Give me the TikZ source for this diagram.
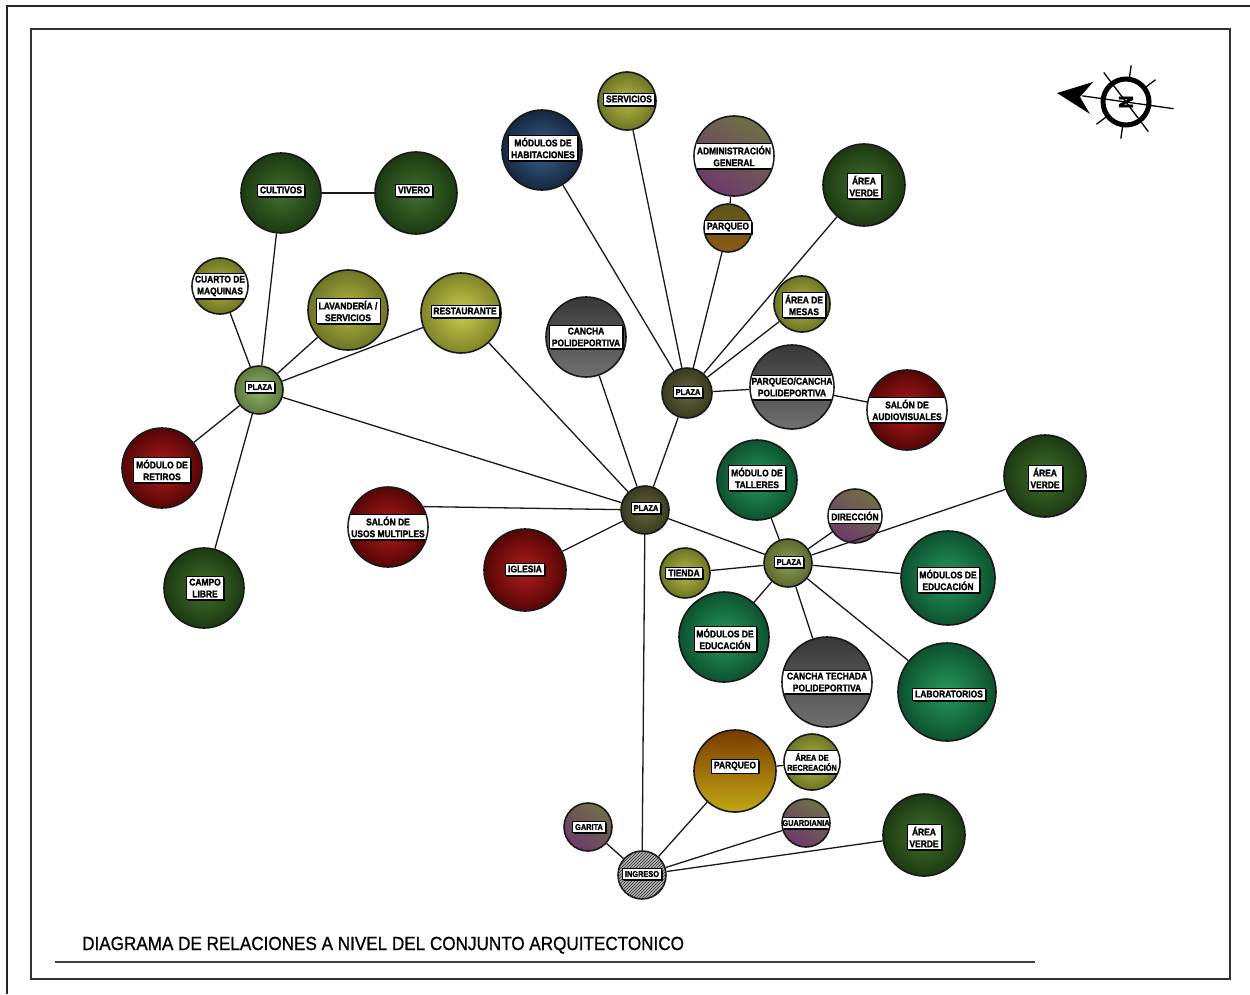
\documentclass[tikz,border=0pt]{standalone}
\usepackage{fontspec}
\usetikzlibrary{shadows,patterns}

\newfontfamily\lblfont[FakeStretch=0.87, FakeBold=1.6]{Liberation Sans}
\newfontfamily\ttlfont[FakeStretch=0.9, FakeBold=0.8]{Liberation Sans}

\definecolor{forestA}{HTML}{42702C}
\definecolor{forestB}{HTML}{1C3A12}
\definecolor{oliveA}{HTML}{B3B843}
\definecolor{oliveB}{HTML}{6E7424}
\definecolor{limeA}{HTML}{C9CC4C}
\definecolor{limeB}{HTML}{7F8428}
\definecolor{wineA}{HTML}{B31B1B}
\definecolor{wineB}{HTML}{560606}
\definecolor{navyA}{HTML}{3A628C}
\definecolor{navyB}{HTML}{152740}
\definecolor{jadeA}{HTML}{27995C}
\definecolor{jadeB}{HTML}{0D5230}
\definecolor{slateT}{HTML}{383838}
\definecolor{slateB}{HTML}{707070}
\definecolor{mauveT}{HTML}{6F6F45}
\definecolor{mauveB}{HTML}{6E3A6A}
\definecolor{goldT}{HTML}{7A3A00}
\definecolor{goldB}{HTML}{C2A814}
\definecolor{bronzeT}{HTML}{58561C}
\definecolor{bronzeB}{HTML}{8E5A12}
\definecolor{sageA}{HTML}{93B06C}
\definecolor{sageB}{HTML}{5C7A3C}
\definecolor{mossA}{HTML}{66663F}
\definecolor{mossB}{HTML}{3A3A1E}
\definecolor{fernA}{HTML}{909E58}
\definecolor{fernB}{HTML}{5A6A2E}

\tikzset{
  spot/.style={circle, draw=black!90, line width=1.6pt, inner sep=0pt, minimum size=#1},
  forest/.style={inner color=forestA, outer color=forestB},
  olivefill/.style={inner color=oliveA, outer color=oliveB},
  lime/.style={inner color=limeA, outer color=limeB},
  wine/.style={inner color=wineA, outer color=wineB},
  navy/.style={inner color=navyA, outer color=navyB},
  jade/.style={inner color=jadeA, outer color=jadeB},
  slate/.style={top color=slateT, bottom color=slateB},
  mauve/.style={top color=mauveT, bottom color=mauveB, shading angle=-35},
  gold/.style={top color=goldT, bottom color=goldB},
  bronze/.style={top color=bronzeT, bottom color=bronzeB},
  sage/.style={inner color=sageA, outer color=sageB},
  moss/.style={inner color=mossA, outer color=mossB},
  fern/.style={inner color=fernA, outer color=fernB},
  hatch/.style={fill=black!30, postaction={pattern=north east lines, pattern color=black!80}},
  tag/.style={draw=black, line width=.7pt, fill=white, align=center,
    inner xsep=2.5pt, inner ysep=2.5pt,
    font=\lblfont\bfseries\fontsize{9.7}{11.8}\selectfont,
    drop shadow={shadow xshift=1.6pt, shadow yshift=-1.6pt, fill=black, opacity=.9}},
  tagsm/.style={tag, font=\lblfont\bfseries\fontsize{8.5}{10}\selectfont},
  link/.style={line width=1.3pt, black!90}
}

% label band cut to its circle
\newcommand{\bandtag}[5]{%
  \begin{scope}
    \clip (#1) circle [radius=#2-0.8];
    \node[tag, #4, minimum width=#3pt] (#1-t) at (#1) {#5};
  \end{scope}}

\begin{document}
\begin{tikzpicture}[x=1pt, y=-1pt]
\useasboundingbox (0,0) rectangle (1250,994);

% frames
\draw[line width=1.2pt, black!85] (7,994) -- (7,6) -- (1250,6);
\draw[line width=1.8pt, black!80] (31,29) rectangle (1230,979);

% west group
\node[spot=80pt, forest] (cultivos) at (281,193) {};
\node[spot=82pt, forest] (vivero) at (416,193) {};
\node[spot=56pt, olivefill] (cuarto) at (220,286) {};
\node[spot=80pt, olivefill] (lavanderia) at (348,310) {};
\node[spot=80pt, lime] (restaurante) at (461,313) {};
\node[spot=48pt, sage] (plazaW) at (259,390) {};
\node[spot=80pt, wine] (retiros) at (162,468) {};
\node[spot=80pt, forest] (campo) at (204,588) {};
\node[spot=80pt, wine] (usos) at (388,527) {};
\node[spot=82pt, wine] (iglesia) at (525,570) {};

% north group
\node[spot=80pt, navy] (habitaciones) at (542,150) {};
\node[spot=58pt, olivefill] (servicios) at (627,101) {};
\node[spot=80pt, mauve] (admin) at (734,156) {};
\node[spot=48pt, bronze] (parqueoN) at (728,228) {};
\node[spot=82pt, forest] (verdeN) at (864,185) {};
\node[spot=56pt, olivefill] (mesas) at (802,304) {};
\node[spot=80pt, slate] (cancha) at (586,337) {};
\node[spot=50pt, moss] (plazaN) at (687,393) {};
\node[spot=84pt, slate] (parqcancha) at (792,387) {};
\node[spot=80pt, wine] (audiovis) at (907,410) {};

% centre and east group
\node[spot=48pt, moss] (plazaC) at (645,510) {};
\node[spot=80pt, jade] (talleres) at (757,480) {};
\node[spot=54pt, mauve] (direccion) at (855,516) {};
\node[spot=82pt, forest] (verdeE) at (1045,476) {};
\node[spot=48pt, fern] (plazaE) at (788,563) {};
\node[spot=50pt, olivefill] (tienda) at (685,573) {};
\node[spot=94pt, jade] (educE) at (948,578) {};
\node[spot=90pt, jade] (educW) at (724,637) {};
\node[spot=90pt, slate] (techada) at (827,682) {};
\node[spot=98pt, jade] (labs) at (947,692) {};

% entrance group
\node[spot=82pt, gold] (parqueoS) at (735,771) {};
\node[spot=56pt, olivefill] (recreacion) at (812,762) {};
\node[spot=48pt, mauve] (garita) at (588,827) {};
\node[spot=48pt, mauve] (guardiania) at (806,823) {};
\node[spot=82pt, forest] (verdeS) at (924,835) {};
\node[spot=48pt, hatch] (ingreso) at (642,875) {};

% links
\foreach \n in {cultivos,cuarto,lavanderia,restaurante,retiros,campo,plazaC}
  \draw[link] (plazaW) -- (\n);
\draw[link] (cultivos) -- (vivero);
\foreach \n in {restaurante,cancha,iglesia,plazaN,plazaE,ingreso}
  \draw[link] (plazaC) -- (\n);
\draw[link] (usos.30) -- (plazaC);
\foreach \n in {habitaciones,servicios,parqueoN,verdeN,mesas,parqcancha}
  \draw[link] (plazaN) -- (\n);
\draw[link] (parqueoN) -- (admin);
\draw[link] (parqcancha) -- (audiovis);
\foreach \n in {talleres,direccion,verdeE,tienda,educE,educW,techada,labs}
  \draw[link] (plazaE) -- (\n);
\foreach \n in {garita,parqueoS,guardiania,verdeS}
  \draw[link] (ingreso) -- (\n);
\draw[link] (parqueoS) -- (recreacion);

% labels
\node[tag] (cultivos-t) at (281,190) {CULTIVOS};
\node[tag] (vivero-t) at (414,190) {VIVERO};
\bandtag{cuarto}{28}{62}{}{CUARTO DE\\MAQUINAS}
\node[tag] (lavanderia-t) at (348,311) {LAVANDERÍA /\\SERVICIOS};
\node[tag] (restaurante-t) at (465,311) {RESTAURANTE};
\node[tagsm] (plazaW-t) at (260,387) {PLAZA};
\node[tag] (retiros-t) at (162,470) {MÓDULO DE\\RETIROS};
\node[tag] (campo-t) at (205,588) {CAMPO\\LIBRE};
\bandtag{usos}{40}{86}{}{SALÓN DE\\USOS MULTIPLES}
\node[tag] (iglesia-t) at (525,569) {IGLESIA};
\node[tag] (habitaciones-t) at (543,148) {MÓDULOS DE\\HABITACIONES};
\node[tag] (servicios-t) at (629,99) {SERVICIOS};
\bandtag{admin}{40}{86}{}{ADMINISTRACIÓN\\GENERAL}
\node[tag] (parqueoN-t) at (728,227) {PARQUEO};
\node[tag] (verdeN-t) at (864,186) {ÁREA\\VERDE};
\node[tag] (mesas-t) at (804,305) {ÁREA DE\\MESAS};
\node[tag] (cancha-t) at (586,337) {CANCHA\\POLIDEPORTIVA};
\node[tagsm] (plazaN-t) at (688,392) {PLAZA};
\bandtag{parqcancha}{42}{90}{}{PARQUEO/CANCHA\\POLIDEPORTIVA}
\bandtag{audiovis}{40}{86}{}{SALÓN DE\\AUDIOVISUALES}
\node[tagsm] (plazaC-t) at (646,508) {PLAZA};
\node[tag] (talleres-t) at (757,478) {MÓDULO DE\\TALLERES};
\bandtag{direccion}{27}{60}{}{DIRECCIÓN}
\node[tag] (verdeE-t) at (1045,478) {ÁREA\\VERDE};
\node[tagsm] (plazaE-t) at (789,562) {PLAZA};
\node[tag] (tienda-t) at (684,573) {TIENDA};
\node[tag] (educE-t) at (948,580) {MÓDULOS DE\\EDUCACIÓN};
\node[tag] (educW-t) at (725,639) {MÓDULOS DE\\EDUCACIÓN};
\bandtag{techada}{45}{96}{}{CANCHA TECHADA\\POLIDEPORTIVA}
\node[tag] (labs-t) at (949,694) {LABORATORIOS};
\node[tag] (parqueoS-t) at (735,766) {PARQUEO};
\bandtag{recreacion}{28}{62}{tagsm}{ÁREA DE\\RECREACIÓN}
\node[tagsm] (garita-t) at (589,827) {GARITA};
\bandtag{guardiania}{24}{54}{tagsm}{GUARDIANIA}
\node[tag] (verdeS-t) at (924,837) {ÁREA\\VERDE};
\node[tagsm] (ingreso-t) at (642,874) {INGRESO};

% north mark
\begin{scope}[shift={(1126,102)}, yscale=-1]
\draw[line width=1.3pt] (172:44) -- (-8:48);
\draw[line width=1.3pt] (127:37) -- (307:37);
\foreach \a in {37,82,217,262}
  \draw[line width=1.3pt] (\a:24) -- (\a:37);
\draw[line width=5pt] (0,0) circle [radius=23];
\fill (-69,9) -- (-33,20) -- (-46,5) -- (-36,-12) -- cycle;
\node[rotate=90, font=\lblfont\bfseries\fontsize{20}{20}\selectfont, inner sep=0pt] (nmark) at (0,0) {N};
\end{scope}

% title
\node[anchor=base west, inner sep=0pt, font=\ttlfont\fontsize{19}{22}\selectfont] (title) at (82,950)
  {DIAGRAMA DE RELACIONES A NIVEL DEL CONJUNTO ARQUITECTONICO};
\draw[line width=2pt, black!75] (55,962) -- (1035,962);
\end{tikzpicture}
\end{document}
